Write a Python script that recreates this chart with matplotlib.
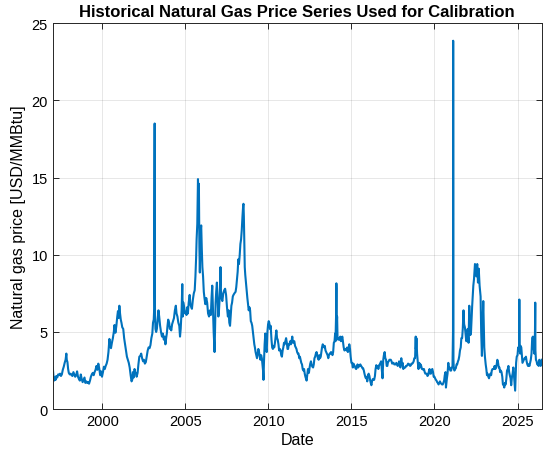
import matplotlib
matplotlib.use('Agg')
import matplotlib.pyplot as plt
import matplotlib.dates as mdates
import pandas as pd

# Henry Hub style spot price
dates = [
    '1997-01-07', '1997-01-20', '1997-02-05', '1997-02-20', '1997-03-10', '1997-03-25', '1997-04-15', '1997-05-05',
    '1997-05-25', '1997-06-15', '1997-07-05', '1997-07-25', '1997-08-15', '1997-09-05', '1997-09-25', '1997-10-15',
    '1997-11-01', '1997-11-10', '1997-11-25', '1997-12-10', '1997-12-25',
    '1998-01-15', '1998-02-05', '1998-02-25', '1998-03-15', '1998-04-05', '1998-04-25', '1998-05-15', '1998-06-05',
    '1998-06-25', '1998-07-15', '1998-08-05', '1998-08-25', '1998-09-15', '1998-10-05', '1998-10-25', '1998-11-15',
    '1998-12-05', '1998-12-25',
    '1999-01-15', '1999-02-05', '1999-02-25', '1999-03-15', '1999-04-05', '1999-04-25', '1999-05-15', '1999-06-05',
    '1999-06-25', '1999-07-15', '1999-08-05', '1999-08-25', '1999-09-15', '1999-10-05', '1999-10-25', '1999-11-15',
    '1999-12-05', '1999-12-25',
    '2000-01-15', '2000-02-05', '2000-02-25', '2000-03-15', '2000-04-05', '2000-04-25', '2000-05-15', '2000-06-05',
    '2000-06-20', '2000-07-10', '2000-07-30', '2000-08-20', '2000-09-10', '2000-09-25', '2000-10-15', '2000-11-05',
    '2000-11-25', '2000-12-10', '2000-12-25',
    '2001-01-10', '2001-01-25', '2001-02-10', '2001-02-25', '2001-03-15', '2001-04-05', '2001-04-25', '2001-05-15',
    '2001-06-05', '2001-06-25', '2001-07-15', '2001-08-05', '2001-08-25', '2001-09-15', '2001-10-05', '2001-10-20',
    '2001-11-05', '2001-11-20', '2001-12-10', '2001-12-25',
    '2002-01-10', '2002-01-25', '2002-02-15', '2002-03-05', '2002-03-25', '2002-04-15', '2002-05-05', '2002-05-25',
    '2002-06-15', '2002-07-05', '2002-07-25', '2002-08-15', '2002-09-05', '2002-09-25', '2002-10-15', '2002-11-05',
    '2002-11-25', '2002-12-15',
    '2003-01-05', '2003-01-20', '2003-02-05', '2003-02-15', '2003-02-25', '2003-02-26', '2003-03-05', '2003-03-15',
    '2003-03-30', '2003-04-15', '2003-05-05', '2003-05-20', '2003-06-05', '2003-06-25', '2003-07-15', '2003-08-05',
    '2003-08-25', '2003-09-15', '2003-10-05', '2003-10-20', '2003-11-05', '2003-11-20', '2003-12-05', '2003-12-20',
    '2004-01-10', '2004-01-25', '2004-02-10', '2004-02-25', '2004-03-15', '2004-04-05', '2004-04-25', '2004-05-15',
    '2004-06-05', '2004-06-20', '2004-07-10', '2004-07-30', '2004-08-20', '2004-09-05', '2004-09-20', '2004-10-10',
    '2004-10-25', '2004-11-05', '2004-11-20', '2004-12-10', '2004-12-25',
    '2005-01-10', '2005-01-25', '2005-02-10', '2005-02-25', '2005-03-15', '2005-04-05', '2005-04-20', '2005-05-10',
    '2005-05-25', '2005-06-15', '2005-07-05', '2005-07-25', '2005-08-10', '2005-08-25', '2005-09-05', '2005-09-20',
    '2005-10-01', '2005-10-05', '2005-10-15', '2005-10-25', '2005-11-05', '2005-11-15', '2005-12-01', '2005-12-15',
    '2005-12-28',
    '2006-01-10', '2006-01-25', '2006-02-10', '2006-02-25', '2006-03-15', '2006-04-05', '2006-04-25', '2006-05-15',
    '2006-06-05', '2006-06-25', '2006-07-15', '2006-08-01', '2006-08-15', '2006-08-30', '2006-09-15', '2006-09-28',
    '2006-10-05', '2006-10-15', '2006-10-28', '2006-11-10', '2006-11-25', '2006-12-10', '2006-12-28',
    '2007-01-10', '2007-01-25', '2007-02-05', '2007-02-12', '2007-02-20', '2007-03-05', '2007-03-25', '2007-04-15',
    '2007-05-05', '2007-05-25', '2007-06-15', '2007-07-05', '2007-07-25', '2007-08-10', '2007-08-25', '2007-09-10',
    '2007-09-25', '2007-10-10', '2007-10-25', '2007-11-10', '2007-11-25', '2007-12-15',
    '2008-01-10', '2008-01-25', '2008-02-10', '2008-02-25', '2008-03-10', '2008-03-25', '2008-04-10', '2008-04-25',
    '2008-05-10', '2008-05-25', '2008-06-10', '2008-06-25', '2008-07-02', '2008-07-10', '2008-07-20', '2008-07-30',
    '2008-08-10', '2008-08-25', '2008-09-10', '2008-09-25', '2008-10-10', '2008-10-25', '2008-11-10', '2008-11-25',
    '2008-12-10', '2008-12-25',
    '2009-01-10', '2009-01-25', '2009-02-10', '2009-02-25', '2009-03-10', '2009-03-25', '2009-04-10', '2009-04-25',
    '2009-05-10', '2009-05-25', '2009-06-10', '2009-06-25', '2009-07-10', '2009-07-25', '2009-08-10', '2009-08-25',
    '2009-09-05', '2009-09-15', '2009-09-25', '2009-10-10', '2009-10-25', '2009-11-10', '2009-11-25', '2009-12-10',
    '2009-12-25',
    '2010-01-08', '2010-01-20', '2010-02-05', '2010-02-20', '2010-03-10', '2010-03-25', '2010-04-10', '2010-04-25',
    '2010-05-10', '2010-05-25', '2010-06-10', '2010-06-25', '2010-07-10', '2010-07-25', '2010-08-10', '2010-08-25',
    '2010-09-10', '2010-09-25', '2010-10-10', '2010-10-25', '2010-11-10', '2010-11-25', '2010-12-10', '2010-12-25',
    '2011-01-10', '2011-01-25', '2011-02-10', '2011-02-25', '2011-03-10', '2011-03-25', '2011-04-10', '2011-04-25',
    '2011-05-10', '2011-05-25', '2011-06-10', '2011-06-25', '2011-07-10', '2011-07-25', '2011-08-10', '2011-08-25',
    '2011-09-10', '2011-09-25', '2011-10-10', '2011-10-25', '2011-11-10', '2011-11-25', '2011-12-10', '2011-12-25',
    '2012-01-10', '2012-01-25', '2012-02-10', '2012-02-25', '2012-03-10', '2012-03-25', '2012-04-10', '2012-04-20',
    '2012-05-05', '2012-05-20', '2012-06-10', '2012-06-25', '2012-07-10', '2012-07-25', '2012-08-10', '2012-08-25',
    '2012-09-10', '2012-09-25', '2012-10-10', '2012-10-25', '2012-11-10', '2012-11-25', '2012-12-10', '2012-12-25',
    '2013-01-10', '2013-01-25', '2013-02-10', '2013-02-25', '2013-03-10', '2013-03-25', '2013-04-10', '2013-04-25',
    '2013-05-10', '2013-05-25', '2013-06-10', '2013-06-25', '2013-07-10', '2013-07-25', '2013-08-10', '2013-08-25',
    '2013-09-10', '2013-09-25', '2013-10-10', '2013-10-25', '2013-11-10', '2013-11-25', '2013-12-10', '2013-12-25',
    '2014-01-08', '2014-01-15', '2014-01-23', '2014-01-28', '2014-02-04', '2014-02-07', '2014-02-12', '2014-02-20',
    '2014-03-01', '2014-03-15', '2014-03-30', '2014-04-15', '2014-05-01', '2014-05-15', '2014-06-01', '2014-06-15',
    '2014-07-01', '2014-07-15', '2014-08-01', '2014-08-15', '2014-09-01', '2014-09-15', '2014-10-01', '2014-10-15',
    '2014-11-01', '2014-11-15', '2014-12-01', '2014-12-15',
    '2015-01-01', '2015-01-15', '2015-02-01', '2015-02-15', '2015-03-01', '2015-03-15', '2015-04-01', '2015-04-15',
    '2015-05-01', '2015-05-15', '2015-06-01', '2015-06-15', '2015-07-01', '2015-07-15', '2015-08-01', '2015-08-15',
    '2015-09-01', '2015-09-15', '2015-10-01', '2015-10-15', '2015-11-01', '2015-11-15', '2015-12-01', '2015-12-15',
    '2016-01-01', '2016-01-15', '2016-02-01', '2016-02-15', '2016-03-01', '2016-03-15', '2016-04-01', '2016-04-15',
    '2016-05-01', '2016-05-15', '2016-06-01', '2016-06-15', '2016-07-01', '2016-07-15', '2016-08-01', '2016-08-15',
    '2016-09-01', '2016-09-15', '2016-10-01', '2016-10-15', '2016-11-01', '2016-11-15', '2016-12-01', '2016-12-15',
    '2017-01-01', '2017-01-15', '2017-02-01', '2017-02-15', '2017-03-01', '2017-03-15', '2017-04-01', '2017-04-15',
    '2017-05-01', '2017-05-15', '2017-06-01', '2017-06-15', '2017-07-01', '2017-07-15', '2017-08-01', '2017-08-15',
    '2017-09-01', '2017-09-15', '2017-10-01', '2017-10-15', '2017-11-01', '2017-11-15', '2017-12-01', '2017-12-15',
    '2018-01-02', '2018-01-15', '2018-02-01', '2018-02-15', '2018-03-01', '2018-03-15', '2018-04-01', '2018-04-15',
    '2018-05-01', '2018-05-15', '2018-06-01', '2018-06-15', '2018-07-01', '2018-07-15', '2018-08-01', '2018-08-15',
    '2018-09-01', '2018-09-15', '2018-10-01', '2018-10-15', '2018-11-01', '2018-11-15', '2018-11-20', '2018-12-01',
    '2018-12-15',
    '2019-01-01', '2019-01-15', '2019-02-01', '2019-02-15', '2019-03-01', '2019-03-15', '2019-04-01', '2019-04-15',
    '2019-05-01', '2019-05-15', '2019-06-01', '2019-06-15', '2019-07-01', '2019-07-15', '2019-08-01', '2019-08-15',
    '2019-09-01', '2019-09-15', '2019-10-01', '2019-10-15', '2019-11-01', '2019-11-15', '2019-12-01', '2019-12-15',
    '2020-01-01', '2020-01-15', '2020-02-01', '2020-02-15', '2020-03-01', '2020-03-15', '2020-04-01', '2020-04-15',
    '2020-05-01', '2020-05-15', '2020-06-01', '2020-06-15', '2020-07-01', '2020-07-15', '2020-08-01', '2020-08-15',
    '2020-09-01', '2020-09-10', '2020-09-20', '2020-10-01', '2020-10-15', '2020-11-01', '2020-11-15', '2020-12-01',
    '2020-12-15',
    '2021-01-01', '2021-01-15', '2021-02-01', '2021-02-12', '2021-02-16', '2021-02-18', '2021-02-22', '2021-03-01',
    '2021-03-15', '2021-04-01', '2021-04-15', '2021-05-01', '2021-05-15', '2021-06-01', '2021-06-15', '2021-07-01',
    '2021-07-15', '2021-08-01', '2021-08-15', '2021-09-01', '2021-09-15', '2021-10-01', '2021-10-15', '2021-11-01',
    '2021-11-15', '2021-12-01', '2021-12-15',
    '2022-01-01', '2022-01-20', '2022-02-05', '2022-02-15', '2022-03-01', '2022-03-15', '2022-04-10', '2022-05-05',
    '2022-05-20', '2022-06-10', '2022-06-25', '2022-07-10', '2022-07-30', '2022-08-15', '2022-09-01', '2022-09-20',
    '2022-10-12', '2022-10-25', '2022-11-10', '2022-11-25', '2022-12-10', '2022-12-25',
    '2023-01-01', '2023-01-15', '2023-02-01', '2023-02-15', '2023-03-01', '2023-03-15', '2023-04-01', '2023-04-15',
    '2023-05-01', '2023-05-15', '2023-06-01', '2023-06-15', '2023-07-01', '2023-07-15', '2023-08-01', '2023-08-15',
    '2023-09-01', '2023-09-15', '2023-10-01', '2023-10-15', '2023-11-01', '2023-11-15', '2023-12-01', '2023-12-15',
    '2024-01-01', '2024-01-15', '2024-02-01', '2024-02-15', '2024-03-01', '2024-03-15', '2024-04-01', '2024-04-15',
    '2024-05-01', '2024-05-15', '2024-06-01', '2024-06-15', '2024-07-01', '2024-07-15', '2024-08-01', '2024-08-15',
    '2024-09-01', '2024-09-15', '2024-10-01', '2024-10-15', '2024-11-01', '2024-11-10', '2024-11-20', '2024-12-01',
    '2024-12-15',
    '2025-01-01', '2025-01-15', '2025-02-05', '2025-02-10', '2025-02-15', '2025-02-28', '2025-03-10', '2025-03-25',
    '2025-04-05', '2025-04-20', '2025-05-05', '2025-05-20', '2025-06-05', '2025-06-20', '2025-07-05', '2025-07-20',
    '2025-08-05', '2025-08-20', '2025-09-05', '2025-09-20', '2025-10-05', '2025-10-20', '2025-11-05', '2025-11-20',
    '2025-12-05', '2025-12-20',
    '2026-01-05', '2026-01-20', '2026-01-26', '2026-01-30', '2026-02-10', '2026-02-25', '2026-03-10', '2026-03-25',
    '2026-04-10', '2026-04-25', '2026-05-10', '2026-05-25', '2026-06-10', '2026-06-18',
]

prices = [
    2.70, 2.20, 1.85, 2.05, 1.90, 2.15, 2.05, 2.25, 2.20, 2.30, 2.15, 2.25, 2.55, 2.75, 3.00, 3.20,
    3.60, 3.20, 3.05, 2.60, 2.35,
    2.25, 2.30, 2.20, 2.15, 2.40, 2.25, 2.10, 2.20, 2.45, 2.10, 1.95, 1.85, 2.25, 1.95, 1.75, 1.90,
    2.05, 1.70,
    1.80, 1.70, 1.75, 1.65, 1.85, 2.10, 2.25, 2.35, 2.20, 2.40, 2.55, 2.80, 2.55, 2.95, 2.65, 2.20,
    2.45, 2.10,
    2.40, 2.75, 2.60, 2.80, 2.95, 3.20, 3.70, 4.55, 4.10, 3.95, 4.30, 4.60, 5.00, 5.45, 4.95, 5.40,
    6.00, 6.35, 5.90,
    6.70, 6.20, 5.80, 5.60, 5.30, 5.20, 4.60, 4.20, 3.80, 3.40, 3.20, 3.00, 2.70, 2.20, 1.80, 1.90,
    2.40, 2.05, 2.60, 2.40,
    2.30, 2.10, 2.35, 2.90, 3.40, 3.45, 3.60, 3.30, 3.10, 3.20, 2.95, 3.05, 3.45, 3.80, 4.00, 3.95,
    4.15, 4.60,
    4.90, 5.60, 5.80, 6.50, 18.50, 9.00, 6.20, 5.20, 5.00, 5.20, 5.90, 6.40, 6.00, 5.40, 5.00, 4.70,
    4.90, 4.50, 4.70, 4.20, 4.60, 4.90, 5.40, 5.80,
    5.60, 5.20, 5.30, 5.10, 5.50, 5.70, 5.90, 6.40, 6.70, 6.20, 6.00, 5.60, 5.40, 4.70, 5.20, 6.40,
    8.10, 6.00, 6.90, 6.50, 6.20,
    6.30, 6.10, 6.60, 6.20, 6.90, 7.40, 6.80, 6.60, 6.50, 7.10, 7.50, 7.70, 8.60, 9.80, 11.00, 12.00,
    14.50, 14.90, 13.50, 14.60, 10.50, 8.85, 11.50, 11.90, 10.40,
    9.20, 8.60, 7.60, 7.20, 6.80, 7.20, 6.90, 6.20, 6.00, 6.40, 6.10, 7.30, 8.00, 6.50, 5.00, 4.20,
    3.70, 5.20, 6.90, 7.60, 8.20, 7.20, 6.00,
    6.40, 7.20, 8.10, 9.20, 7.80, 7.20, 7.00, 7.50, 7.70, 7.80, 7.40, 6.60, 6.00, 6.40, 5.60, 5.40,
    6.10, 6.70, 6.90, 7.30, 7.40, 7.50,
    7.60, 7.90, 8.40, 8.90, 9.70, 9.40, 10.00, 10.70, 11.00, 11.60, 12.50, 13.20, 13.30, 12.50, 11.00, 9.20,
    8.70, 8.20, 7.70, 7.20, 6.80, 6.40, 6.60, 6.40, 5.70, 5.60,
    5.40, 5.00, 4.60, 4.20, 4.00, 3.70, 3.50, 3.30, 3.60, 3.90, 3.70, 3.40, 3.20, 3.50, 3.30, 2.80,
    2.50, 1.90, 3.00, 4.20, 4.90, 3.90, 3.70, 5.00, 5.50,
    5.70, 5.60, 5.20, 5.40, 4.50, 4.00, 3.90, 4.10, 4.00, 4.30, 4.70, 5.10, 4.60, 4.50, 4.20, 3.80,
    3.90, 3.80, 3.50, 3.40, 3.80, 4.00, 4.30, 4.20,
    4.40, 4.60, 4.30, 3.90, 3.90, 4.20, 4.20, 4.40, 4.20, 4.40, 4.70, 4.30, 4.40, 4.40, 4.10, 4.00,
    3.90, 3.70, 3.60, 3.60, 3.30, 3.40, 3.20, 3.00,
    2.90, 2.60, 2.50, 2.60, 2.30, 2.10, 1.95, 1.85, 2.20, 2.60, 2.35, 2.70, 2.95, 3.10, 2.85, 2.75,
    2.70, 2.90, 3.30, 3.40, 3.60, 3.70, 3.50, 3.30,
    3.20, 3.50, 3.30, 3.40, 3.70, 4.00, 4.20, 4.10, 4.00, 4.10, 3.80, 3.70, 3.60, 3.50, 3.30, 3.50,
    3.60, 3.60, 3.70, 3.60, 3.50, 3.70, 4.30, 4.40,
    4.90, 4.40, 5.50, 6.00, 8.15, 7.80, 5.50, 6.00, 4.70, 4.50, 4.60, 4.50, 4.70, 4.40, 4.60, 4.70,
    4.30, 4.00, 3.80, 3.90, 3.90, 3.80, 4.00, 3.70, 3.80, 4.20, 3.90, 3.40,
    3.00, 3.00, 2.70, 2.95, 2.85, 2.80, 2.65, 2.60, 2.70, 2.90, 2.70, 2.85, 2.80, 2.90, 2.80, 2.75,
    2.65, 2.65, 2.50, 2.30, 2.10, 2.00, 2.10, 1.80,
    2.20, 2.30, 2.15, 1.90, 1.70, 1.55, 1.85, 1.95, 1.90, 1.90, 2.15, 2.60, 2.85, 2.70, 2.80, 2.60,
    2.85, 2.90, 3.00, 3.10, 2.45, 2.00, 3.20, 3.50,
    3.70, 3.30, 3.20, 2.80, 2.80, 3.05, 3.10, 3.20, 3.20, 3.20, 3.10, 2.95, 3.00, 3.00, 2.90, 2.90,
    2.90, 3.00, 2.90, 2.80, 2.90, 3.10, 2.80, 2.70,
    3.30, 2.90, 3.00, 2.60, 2.70, 2.70, 2.70, 2.80, 2.80, 2.85, 2.95, 2.90, 2.90, 2.80, 2.85, 2.95,
    2.95, 3.00, 3.10, 3.30, 3.30, 4.70, 3.90, 4.60, 3.60,
    3.00, 2.60, 3.00, 2.70, 2.90, 2.80, 2.60, 2.60, 2.55, 2.60, 2.40, 2.30, 2.30, 2.30, 2.15, 2.20,
    2.45, 2.60, 2.30, 2.30, 2.55, 2.60, 2.40, 2.10,
    2.10, 2.00, 1.90, 1.85, 1.75, 1.70, 1.60, 1.70, 1.80, 1.70, 1.65, 1.60, 1.60, 1.70, 1.85, 2.20,
    2.40, 1.40, 1.70, 2.00, 2.30, 3.00, 2.60, 2.70, 2.50,
    2.50, 2.65, 2.80, 5.00, 23.86, 17.00, 3.20, 2.70, 2.50, 2.60, 2.65, 2.90, 2.90, 3.10, 3.20, 3.45,
    3.80, 4.00, 4.60, 4.60, 5.20, 6.40, 5.50, 5.30, 4.90, 4.40, 4.50,
    5.20, 4.30, 6.70, 5.60, 4.80, 5.00, 6.70, 8.00, 8.42, 9.40, 9.00, 8.60, 9.40, 8.20, 9.10, 8.00,
    7.30, 5.00, 3.45, 5.50, 7.00, 4.75,
    4.00, 3.40, 2.90, 2.60, 2.20, 2.30, 2.10, 2.00, 2.20, 2.30, 2.20, 2.50, 2.60, 2.60, 2.60, 2.80,
    2.60, 2.70, 2.90, 3.20, 3.00, 2.70, 2.70, 2.40,
    2.50, 2.40, 2.10, 1.60, 1.60, 1.40, 1.70, 1.60, 2.00, 2.50, 2.60, 2.80, 2.40, 2.20, 2.00, 1.55,
    2.10, 2.30, 2.70, 2.20, 1.60, 1.20, 2.10, 3.00, 3.40,
    3.50, 4.00, 3.80, 7.10, 4.20, 3.60, 4.10, 4.00, 3.60, 3.00, 3.10, 3.20, 3.30, 3.30, 3.40, 3.10,
    2.90, 2.80, 2.90, 2.80, 3.00, 3.20, 3.60, 4.60, 4.70, 4.00,
    3.60, 5.00, 6.90, 3.80, 3.20, 3.10, 2.90, 3.00, 2.80, 3.20, 3.00, 2.80, 3.00, 3.20,
]

assert len(dates) == len(prices), (len(dates), len(prices))

x = pd.to_datetime(dates)

plt.rcParams['font.family'] = ['Liberation Sans', 'DejaVu Sans']
axis_col = '#262626'

fig = plt.figure(figsize=(5.5, 4.64), dpi=100)
ax = fig.add_axes([0.096, 0.116, 0.889, 0.832])

ax.plot(x, prices, color='#0072BD', linewidth=1.5)

ax.set_xlim(pd.Timestamp('1997-01-07'), pd.Timestamp('2026-06-18'))
ax.set_ylim(0, 25)
ax.set_yticks([0, 5, 10, 15, 20, 25])
ax.xaxis.set_major_locator(mdates.YearLocator(5))
ax.xaxis.set_major_formatter(mdates.DateFormatter('%Y'))

ax.grid(True, color='#262626', alpha=0.13, linewidth=0.6)
ax.set_axisbelow(True)
for sp in ax.spines.values():
    sp.set_color(axis_col)
    sp.set_linewidth(0.7)
ax.tick_params(direction='in', length=4, width=0.7, colors=axis_col,
               labelsize=10.5, top=True, right=True, labelcolor='black')

ax.set_xlabel('Date', fontsize=11.5, labelpad=3)
ax.set_ylabel('Natural gas price [USD/MMBtu]', fontsize=11.5, labelpad=4)
ax.set_title('Historical Natural Gas Price Series Used for Calibration',
             fontsize=12, fontweight='bold', pad=5)

fig.savefig('out.png', dpi=100)
